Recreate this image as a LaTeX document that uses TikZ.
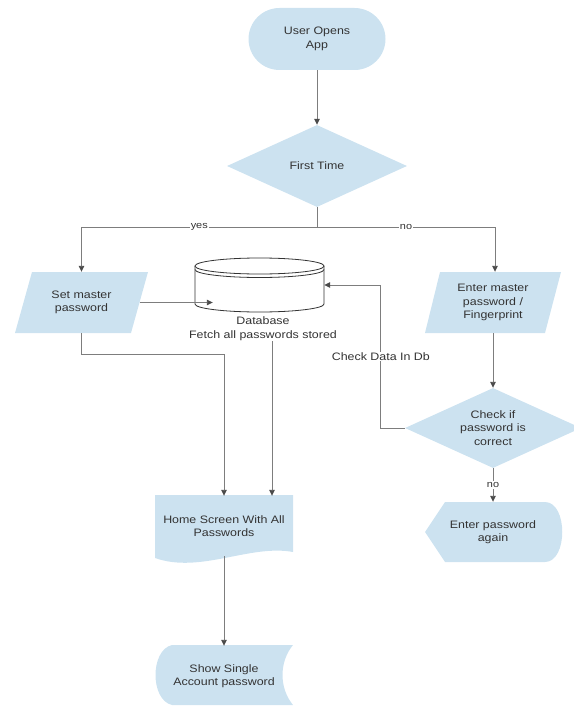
\documentclass[tikz,border=0pt]{standalone}
\usepackage{fontspec}
\setmainfont{Liberation Sans}[FakeStretch=1.15]
\usetikzlibrary{shapes.geometric,arrows.meta,calc}
\definecolor{boxblue}{RGB}{204,226,240}
\definecolor{txtgrey}{RGB}{51,51,51}
\definecolor{linegrey}{RGB}{125,125,125}
\definecolor{tipgrey}{RGB}{75,75,75}
\begin{document}
\begin{tikzpicture}[x=1pt,y=-1pt,
  every node/.style={font=\fontsize{10.8}{13.5}\selectfont, text=txtgrey, align=center, inner sep=1pt},
  shapefill/.style={fill=boxblue, draw=none},
  boxnode/.style={minimum width=138pt, minimum height=60pt},
  decision/.style={diamond, aspect=2.2, fill=boxblue, inner sep=0pt},
  conn/.style={draw=linegrey, line width=0.9pt},
  arr/.style={conn, -{Triangle[length=6pt,width=5.5pt,color=tipgrey]}},
  lab/.style={fill=white, inner sep=1pt},
  smalllab/.style={lab, font=\fontsize{9.5}{11}\selectfont}
]
\useasboundingbox (0,0) rectangle (573,706);

% ---- shapes drawn directly ----
% Set master password (parallelogram)
\fill[shapefill] (32,272) -- (148,272) -- (131,333) -- (15,333) -- cycle;
% Enter master password (parallelogram)
\fill[shapefill] (440,272) -- (561,272) -- (545,333) -- (425,333) -- cycle;
% Database cylinder
\filldraw[fill=white, draw=black!80, line width=0.8pt]
  (195,266) -- (195,304) arc[start angle=180, end angle=0, x radius=64.5, y radius=8] -- (324,266);
\filldraw[fill=white, draw=black!80, line width=0.8pt] (259.5,266) ellipse [x radius=64.5, y radius=8];
\draw[draw=black!80, line width=0.8pt] (195,269.5) arc[start angle=180, end angle=0, x radius=64.5, y radius=8];
% Home screen (document)
\fill[shapefill] (155,495) -- (293,495) -- (293,552) .. controls (250,544) and (200,574) .. (155,558) -- cycle;
% Enter password again (display)
\fill[shapefill] (425,532) -- (445,502) -- (545,502) .. controls (568,502) and (568,562) .. (545,562) -- (445,562) -- cycle;
% Show single account password (stored data)
\fill[shapefill] (172,645) -- (293,645) .. controls (279,662) and (279,688) .. (293,705) -- (172,705)
  .. controls (150,700) and (150,650) .. (172,645) -- cycle;

% ---- nodes ----
\node[fill=boxblue, rounded corners=31pt, minimum width=137pt, minimum height=62pt] (start) at (317,39) {User Opens\\App};
\node[decision, minimum width=180pt, minimum height=82pt] (ft) at (317,166) {First Time};
\node[minimum width=116pt, minimum height=61pt] (setpw) at (81.5,302.5) {Set master\\password};
\node[minimum width=120pt, minimum height=61pt] (enterpw) at (493,302.5) {Enter master\\password /\\Fingerprint};
\node[minimum width=129pt, minimum height=54pt] (db) at (259.5,285) {};
\node (dblabel) at (263,328.5) {Database\\Fetch all passwords stored};
\node[decision, minimum width=176pt, minimum height=80pt] (chk) at (493,428) {Check if\\password is\\correct};
\node[boxnode] (home) at (224,526) {Home Screen With All\\Passwords};
\node[boxnode] (again) at (493,532) {Enter password\\again};
\node[boxnode] (show) at (224,676) {Show Single\\Account password};

% ---- connectors ----
\coordinate (split) at (317,227);
\coordinate (dbin) at ($(db.west)+(18,0)$);
\coordinate (hin) at ($(home.north)+(48,0)$);
\draw[arr] (start.south) -- (ft.north);
\draw[conn] (ft.south) -- (split);
\draw[arr] (split) -| node[smalllab, pos=0.25] {yes} (setpw.north);
\draw[arr] (split) -| node[smalllab, pos=0.25] {no} ([xshift=2pt]enterpw.north);
\draw[arr] (setpw.east) -- (setpw.east -| dbin);
\draw[arr] (setpw.south) -- ++(0,21) -| (home.north);
\draw[arr] (dblabel.south -| hin) -- (hin);
\draw[arr] (chk.west) -- ++(-24,0) |- node[lab, pos=0.25] {Check Data In Db} (db.east);
\draw[arr] (enterpw.south) -- (chk.north);
\draw[arr] (chk.south) -- node[smalllab] {no} (again.north);
\draw[arr] (home.south) -- (show.north);
\end{tikzpicture}
\end{document}
